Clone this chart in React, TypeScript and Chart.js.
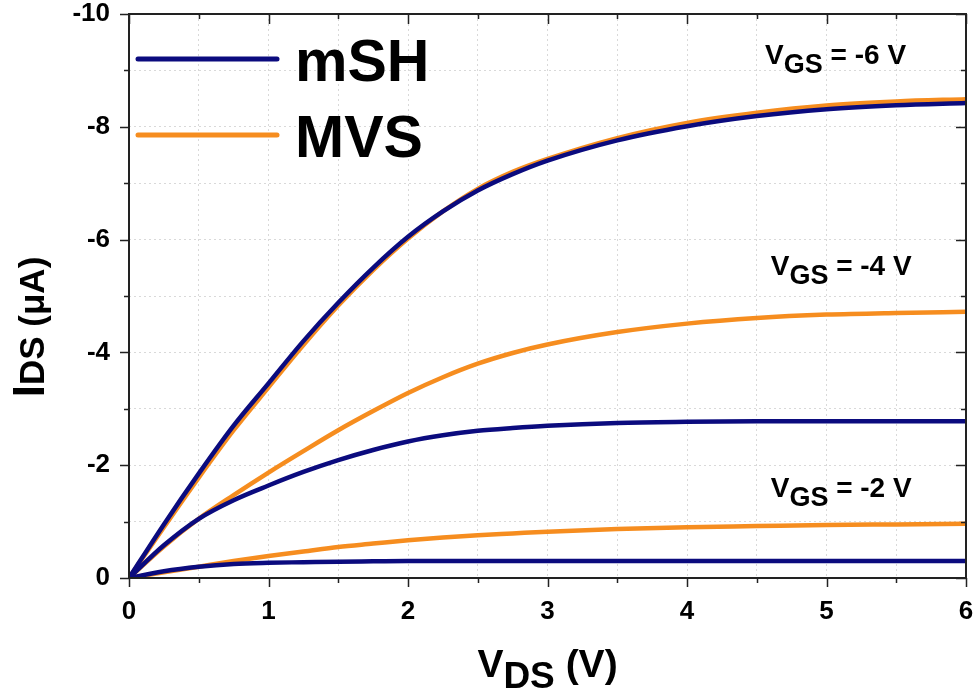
import React, { useEffect, useRef } from 'react';
import { Chart, registerables } from 'chart.js';

Chart.register(...registerables);

// V_DS sample points (V)
const vds = [0, 0.25, 0.5, 0.75, 1, 1.25, 1.5, 1.75, 2, 2.25, 2.5, 2.75, 3, 3.5, 4, 4.5, 5, 5.5, 6];

// I_DS (µA)
const mshVgs6 = [0, -0.95, -1.85, -2.7, -3.45, -4.2, -4.88, -5.5, -6.05, -6.5, -6.87, -7.16, -7.4, -7.76, -8.01, -8.19, -8.31, -8.38, -8.42];
const mvsVgs6 = [0, -0.9, -1.78, -2.62, -3.38, -4.13, -4.83, -5.46, -6.02, -6.5, -6.9, -7.2, -7.43, -7.8, -8.07, -8.25, -8.38, -8.45, -8.49];
const mshVgs4 = [0, -0.58, -1.05, -1.38, -1.64, -1.88, -2.09, -2.27, -2.42, -2.53, -2.61, -2.66, -2.7, -2.75, -2.77, -2.78, -2.78, -2.78, -2.78];
const mvsVgs4 = [0, -0.56, -1.05, -1.47, -1.87, -2.25, -2.62, -2.96, -3.28, -3.56, -3.8, -3.99, -4.14, -4.36, -4.51, -4.61, -4.67, -4.7, -4.72];
const mshVgs2 = [0, -0.12, -0.2, -0.25, -0.27, -0.28, -0.29, -0.295, -0.3, -0.3, -0.3, -0.3, -0.3, -0.3, -0.3, -0.3, -0.3, -0.3, -0.3];
const mvsVgs2 = [0, -0.1, -0.2, -0.3, -0.39, -0.47, -0.55, -0.61, -0.67, -0.72, -0.76, -0.79, -0.82, -0.87, -0.9, -0.92, -0.94, -0.95, -0.96];

const seriesNames = ['mSH', 'MVS'];
const vgsLabels = ['-6 V', '-4 V', '-2 V'];
const xTickLabels = ['0', '1', '2', '3', '4', '5', '6'];
const yTickLabels = ['0', '-2', '-4', '-6', '-8', '-10'];

const NAVY = '#0b0b7e';
const ORANGE = '#f68d1f';
const FONT = '"Liberation Sans", Arial, Helvetica, sans-serif';

const toPoints = (ys: number[]) => vds.map((x, i) => ({ x, y: ys[i] }));

const overlayPlugin = {
  id: 'overlay',
  afterDraw(chart: any) {
    const { ctx, chartArea: ca, scales } = chart;
    const xs = scales.x;
    const ys = scales.y;
    ctx.save();

    // tick marks
    ctx.strokeStyle = '#222';
    ctx.lineWidth = 1.5;
    ctx.beginPath();
    for (let i = 0; i <= 12; i++) {
      const v = i * 0.5;
      const px = Math.round(xs.getPixelForValue(v)) + 0.5;
      const major = i % 2 === 0;
      const outL = major ? 9 : 5;
      const inL = major ? 10 : 5;
      ctx.moveTo(px, ca.bottom);
      ctx.lineTo(px, ca.bottom + outL);
      ctx.moveTo(px, ca.top);
      ctx.lineTo(px, ca.top + inL);
    }
    for (let i = 0; i <= 10; i++) {
      const v = -i;
      const py = Math.round(ys.getPixelForValue(v)) + 0.5;
      const major = i % 2 === 0;
      const outL = major ? 9 : 5;
      const inL = major ? 10 : 5;
      ctx.moveTo(ca.left, py);
      ctx.lineTo(ca.left - outL, py);
      ctx.moveTo(ca.right, py);
      ctx.lineTo(ca.right - inL, py);
    }
    ctx.stroke();

    // frame
    ctx.lineWidth = 2;
    ctx.strokeStyle = '#222';
    ctx.strokeRect(ca.left, ca.top, ca.right - ca.left, ca.bottom - ca.top);

    // legend
    const legendColors = [NAVY, ORANGE];
    const legendY = [59, 135];
    ctx.lineCap = 'round';
    ctx.lineWidth = 5;
    ctx.font = `bold 59px ${FONT}`;
    seriesNames.forEach((name, i) => {
      ctx.strokeStyle = legendColors[i];
      ctx.beginPath();
      ctx.moveTo(ca.left + 9, legendY[i]);
      ctx.lineTo(ca.left + 148, legendY[i]);
      ctx.stroke();
      ctx.fillStyle = '#000';
      ctx.textBaseline = 'alphabetic';
      ctx.fillText(name, ca.left + 166, legendY[i] + 22);
    });

    // V_GS annotations (anchored in data coordinates)
    const anchors = [
      { x: 4.56, y: -9.12 },
      { x: 4.6, y: -5.37 },
      { x: 4.6, y: -1.44 },
    ];
    ctx.fillStyle = '#000';
    ctx.textBaseline = 'alphabetic';
    vgsLabels.forEach((lab, i) => {
      let px = xs.getPixelForValue(anchors[i].x);
      const py = ys.getPixelForValue(anchors[i].y);
      ctx.font = `bold 28px ${FONT}`;
      ctx.fillText('V', px, py);
      px += ctx.measureText('V').width;
      ctx.font = `bold 27px ${FONT}`;
      ctx.fillText('GS', px, py + 9);
      px += ctx.measureText('GS').width;
      ctx.font = `bold 28px ${FONT}`;
      ctx.fillText(' = ' + lab, px, py);
    });

    // x axis title
    {
      const cx = (ca.left + ca.right) / 2;
      const base = 677;
      ctx.font = `bold 39px ${FONT}`;
      const w1 = ctx.measureText('V').width;
      const w3 = ctx.measureText(' (V)').width;
      ctx.font = `bold 37px ${FONT}`;
      const w2 = ctx.measureText('DS').width;
      let px = cx - (w1 + w2 + w3) / 2;
      ctx.font = `bold 39px ${FONT}`;
      ctx.fillText('V', px, base);
      px += w1;
      ctx.font = `bold 37px ${FONT}`;
      ctx.fillText('DS', px, base + 11);
      px += w2;
      ctx.font = `bold 39px ${FONT}`;
      ctx.fillText(' (V)', px, base);
    }

    // y axis title (rotated)
    {
      ctx.save();
      ctx.translate(44, 327);
      ctx.rotate(-Math.PI / 2);
      ctx.font = `bold 44px ${FONT}`;
      const w1 = ctx.measureText('I').width;
      ctx.font = `bold 35px ${FONT}`;
      const w2 = ctx.measureText('DS').width;
      const w3 = ctx.measureText(' (\u03bcA)').width;
      let px = -(w1 + w2 + w3) / 2;
      ctx.font = `bold 44px ${FONT}`;
      ctx.fillText('I', px, 0);
      px += w1;
      ctx.font = `bold 35px ${FONT}`;
      ctx.fillText('DS', px, 0);
      px += w2;
      ctx.fillText(' (\u03bcA)', px, 0);
      ctx.restore();
    }

    ctx.restore();
  },
};

export default function App() {
  const ref = useRef<HTMLCanvasElement | null>(null);

  useEffect(() => {
    if (!ref.current) return;
    const mk = (label: string, data: number[], color: string) => ({
      label,
      data: toPoints(data),
      borderColor: color,
      backgroundColor: color,
      borderWidth: 4.5,
      pointRadius: 0,
      fill: false,
      cubicInterpolationMode: 'monotone' as const,
    });
    const chart = new Chart(ref.current, {
      type: 'line',
      data: {
        datasets: [
          mk('mSH -6', mshVgs6, NAVY),
          mk('mSH -4', mshVgs4, NAVY),
          mk('mSH -2', mshVgs2, NAVY),
          mk('MVS -6', mvsVgs6, ORANGE),
          mk('MVS -4', mvsVgs4, ORANGE),
          mk('MVS -2', mvsVgs2, ORANGE),
        ],
      },
      options: {
        animation: false,
        responsive: false,
        maintainAspectRatio: false,
        layout: { padding: { top: 14, right: 8, left: 0, bottom: 0 } },
        plugins: { legend: { display: false }, tooltip: { enabled: false } },
        scales: {
          x: {
            type: 'linear',
            min: 0,
            max: 6,
            ticks: {
              stepSize: 0.5,
              autoSkip: false,
              maxRotation: 0,
              padding: 18,
              color: '#000',
              font: { family: FONT, size: 26, weight: 'bold' },
              callback: (v: any) => (Number.isInteger(v) ? xTickLabels[v] : ''),
            },
            grid: { color: '#d9d9d9', lineWidth: 1, drawTicks: false },
            border: { display: false, dash: [2, 3] },
            afterFit: (s: any) => {
              s.height = 114;
              s.paddingLeft = 0;
              s.paddingRight = 0;
            },
          },
          y: {
            type: 'linear',
            min: -10,
            max: 0,
            reverse: true,
            ticks: {
              stepSize: 1,
              autoSkip: false,
              padding: 19,
              color: '#000',
              font: { family: FONT, size: 26, weight: 'bold' },
              callback: (v: any) => (Number.isInteger(v) && v % 2 === 0 ? yTickLabels[-v / 2] : ''),
            },
            grid: { color: '#d9d9d9', lineWidth: 1, drawTicks: false },
            border: { display: false, dash: [2, 3] },
            afterFit: (s: any) => {
              s.width = 129;
              s.paddingTop = 0;
              s.paddingBottom = 0;
            },
          },
        },
      },
      plugins: [overlayPlugin],
    });
    return () => chart.destroy();
  }, []);

  return (
    <div style={{ position: 'absolute', left: 0, top: 0, width: 974, height: 692, background: '#fff' }}>
      <canvas ref={ref} width={974} height={692} style={{ width: 974, height: 692 }} />
    </div>
  );
}
